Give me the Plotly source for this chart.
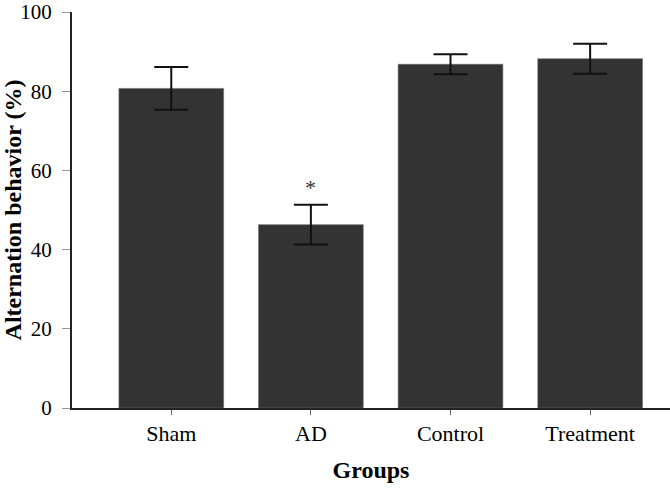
import plotly.graph_objects as go

categories = ["Sham", "AD", "Control", "Treatment"]
means = [80.7, 46.3, 86.8, 88.2]
errors = [5.4, 5.0, 2.5, 3.8]
y_ticks = [0, 20, 40, 60, 80, 100]
star_group = "AD"

FONT = "Liberation Serif, Times New Roman, serif"

fig = go.Figure()
fig.add_trace(go.Bar(
    x=categories,
    y=means,
    width=0.75,
    marker=dict(color="#333333", line=dict(color="#6a6a6a", width=0.6)),
    error_y=dict(type="data", array=errors, visible=True,
                 color="#111111", thickness=2, width=17),
))

si = categories.index(star_group)
fig.add_annotation(
    x=star_group, y=means[si] + errors[si],
    text="*", showarrow=False, yanchor="bottom", yshift=3,
    font=dict(family=FONT, size=22, color="#333333"),
)

fig.update_layout(
    width=670, height=489,
    margin=dict(l=72, r=0, t=12, b=81, autoexpand=False),
    plot_bgcolor="white", paper_bgcolor="white",
    showlegend=False,
    font=dict(family=FONT, color="black"),
    bargap=0.25,
)
fig.update_xaxes(
    range=[-0.711, 3.572],
    automargin=False,
    showline=True, linecolor="#222222", linewidth=2,
    ticks="outside", ticklen=5, tickcolor="#666666", tickwidth=1,
    tickfont=dict(family=FONT, size=22, color="black"),
    title=dict(text="<b>Groups</b>", font=dict(family=FONT, size=24, color="black"), standoff=16),
    showgrid=False, zeroline=False,
)
fig.update_yaxes(
    range=[0, 100],
    tickvals=y_ticks,
    automargin=False,
    ticklabeloverflow="allow",
    ticklabelstandoff=6,
    showline=True, linecolor="#222222", linewidth=2,
    ticks="outside", ticklen=8, tickcolor="#999999", tickwidth=1,
    tickfont=dict(family=FONT, size=21, color="black"),
    title=dict(text="<b>Alternation behavior (%)</b>", font=dict(family=FONT, size=24, color="black"), standoff=0),
    showgrid=False, zeroline=False,
)

fig.write_html("out.html", config={"displayModeBar": False},
               post_script="document.body.style.margin='0';")
